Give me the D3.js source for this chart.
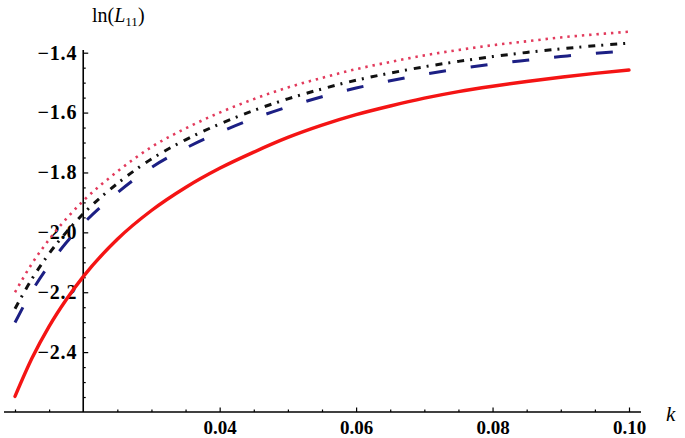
<!DOCTYPE html>
<html>
<head>
<meta charset="utf-8">
<script src="https://cdn.jsdelivr.net/npm/d3@7"></script>
<style>
  html, body { margin: 0; padding: 0; background: #fff; }
  svg { display: block; }
</style>
</head>
<body>
<svg id="chart" width="685" height="438"></svg>
<script>
// ---- data ----
const kValues = [0.01, 0.0125, 0.015, 0.0175, 0.02, 0.025, 0.03, 0.035, 0.04, 0.045, 0.05, 0.055, 0.06, 0.065, 0.07, 0.075, 0.08, 0.085, 0.09, 0.095, 0.10];
const solidRed = [-2.548, -2.420, -2.314, -2.225, -2.148, -2.023, -1.927, -1.850, -1.786, -1.732, -1.683, -1.642, -1.607, -1.578, -1.552, -1.530, -1.512, -1.496, -1.482, -1.469, -1.458];
const dashedBlue = [-2.301, -2.196, -2.109, -2.035, -1.971, -1.868, -1.783, -1.719, -1.666, -1.620, -1.581, -1.547, -1.518, -1.494, -1.472, -1.454, -1.438, -1.425, -1.413, -1.402, -1.394];
const dotDashedBlack = [-2.255, -2.155, -2.071, -2.000, -1.938, -1.837, -1.755, -1.691, -1.638, -1.593, -1.554, -1.521, -1.492, -1.468, -1.447, -1.429, -1.413, -1.399, -1.387, -1.377, -1.368];
const dottedPink = [-2.200, -2.104, -2.024, -1.955, -1.895, -1.797, -1.715, -1.653, -1.600, -1.555, -1.516, -1.484, -1.455, -1.431, -1.409, -1.391, -1.375, -1.362, -1.349, -1.339, -1.330];

const xMajorTicks = [0.04, 0.06, 0.08, 0.10];
const xMinorTicks = [0.01, 0.015, 0.025, 0.03, 0.035, 0.045, 0.05, 0.055, 0.065, 0.07, 0.075, 0.085, 0.09, 0.095];
const yMajorTicks = [-2.4, -2.2, -2.0, -1.8, -1.6, -1.4];
const yMinorTicks = [-2.55, -2.5, -2.45, -2.35, -2.3, -2.25, -2.15, -2.1, -2.05, -1.95, -1.9, -1.85, -1.75, -1.7, -1.65, -1.55, -1.5, -1.45];

const svg = d3.select("#chart");

const x = d3.scaleLinear().domain([0.01, 0.10]).range([15, 629]);
const y = d3.scaleLinear().domain([-2.6, -1.4]).range([412, 52.7]);

const xAxisY = y(-2.6);
const yAxisX = x(0.02);

const serif = "'Liberation Serif', 'DejaVu Serif', 'Times New Roman', serif";

// ---- axes ----
svg.append("line")
  .attr("x1", 4).attr("x2", 641)
  .attr("y1", xAxisY).attr("y2", xAxisY)
  .attr("stroke", "#000").attr("stroke-width", 1.6);

svg.append("line")
  .attr("x1", yAxisX).attr("x2", yAxisX)
  .attr("y1", 50).attr("y2", xAxisY)
  .attr("stroke", "#000").attr("stroke-width", 1.6);

// x major ticks + labels
const xMajor = svg.append("g")
  .attr("transform", `translate(0,${xAxisY})`)
  .call(d3.axisBottom(x).tickValues(xMajorTicks).tickSize(-4.5).tickPadding(9).tickFormat(d3.format(".2f")));
xMajor.select(".domain").remove();
xMajor.selectAll("line").attr("stroke", "#000").attr("stroke-width", 1.2);
xMajor.selectAll("text")
  .attr("font-family", serif).attr("font-weight", "bold").attr("font-size", 19).attr("fill", "#000");

// x minor ticks
const xMinor = svg.append("g")
  .attr("transform", `translate(0,${xAxisY})`)
  .call(d3.axisBottom(x).tickValues(xMinorTicks).tickSize(-2.5).tickFormat(""));
xMinor.select(".domain").remove();
xMinor.selectAll("line").attr("stroke", "#000").attr("stroke-width", 1.2);

// y major ticks + labels
const yMajor = svg.append("g")
  .attr("transform", `translate(${yAxisX},0)`)
  .call(d3.axisLeft(y).tickValues(yMajorTicks).tickSize(-5).tickPadding(6).tickFormat(d3.format(".1f")));
yMajor.select(".domain").remove();
yMajor.selectAll("line").attr("stroke", "#000").attr("stroke-width", 1.2);
yMajor.selectAll("text")
  .attr("font-family", serif).attr("font-weight", "bold").attr("font-size", 20)
  .attr("letter-spacing", 0.8).attr("fill", "#000");

// y minor ticks
const yMinor = svg.append("g")
  .attr("transform", `translate(${yAxisX},0)`)
  .call(d3.axisLeft(y).tickValues(yMinorTicks).tickSize(-2.5).tickFormat(""));
yMinor.select(".domain").remove();
yMinor.selectAll("line").attr("stroke", "#000").attr("stroke-width", 1.2);

// axis titles
const yTitle = svg.append("text")
  .attr("x", 92).attr("y", 22)
  .attr("font-family", serif).attr("font-size", 20).attr("fill", "#000");
yTitle.append("tspan").text("ln(");
yTitle.append("tspan").attr("font-style", "italic").text("L");
yTitle.append("tspan").attr("font-size", 13).attr("dy", 4).text("11");
yTitle.append("tspan").attr("dy", -4).text(")");

svg.append("text")
  .attr("x", 666).attr("y", 421)
  .attr("font-family", serif).attr("font-style", "italic").attr("font-size", 21).attr("fill", "#000")
  .text("k");

// ---- curves ----
const line = d3.line()
  .x((d, i) => x(kValues[i]))
  .y(d => y(d))
  .curve(d3.curveMonotoneX);

const series = [
  { values: dottedPink, color: "#e23a5c", width: 2.6, dash: "2.4,4.9", cap: "butt" },
  { values: dotDashedBlack, color: "#111111", width: 3, dash: "7,6,2,7", cap: "butt" },
  { values: dashedBlue, color: "#1c1f84", width: 3, dash: "17,25", cap: "butt" },
  { values: solidRed, color: "#f41414", width: 3.4, dash: null, cap: "round" }
];

svg.append("g").selectAll("path")
  .data(series)
  .join("path")
  .attr("d", d => line(d.values))
  .attr("fill", "none")
  .attr("stroke", d => d.color)
  .attr("stroke-width", d => d.width)
  .attr("stroke-linecap", d => d.cap)
  .attr("stroke-dasharray", d => d.dash);
</script>
</body>
</html>
